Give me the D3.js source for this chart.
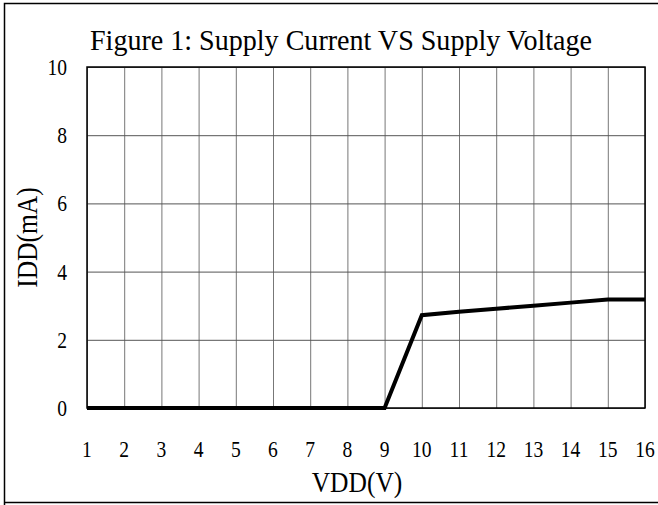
<!DOCTYPE html>
<html>
<head>
<meta charset="utf-8">
<script src="https://cdn.jsdelivr.net/npm/d3@7"></script>
<style>
  body { margin: 0; background: #fff; }
  text { font-family: "Liberation Serif", "DejaVu Serif", serif; fill: #000; }
</style>
</head>
<body>
<svg id="chart"></svg>
<script>
// supply voltage (V) and supply current (mA)
var vdd = [1, 2, 3, 4, 5, 6, 7, 8, 9, 10, 11, 12, 13, 14, 15, 16];
var idd = [0, 0, 0, 0, 0, 0, 0, 0, 0, 2.72, 2.82, 2.91, 3.0, 3.09, 3.18, 3.18];
var xTicks = [1, 2, 3, 4, 5, 6, 7, 8, 9, 10, 11, 12, 13, 14, 15, 16];
var yTicks = [0, 2, 4, 6, 8, 10];

var width = 658, height = 505;
var margin = {top: 67, right: 13, bottom: 97, left: 87};

var svg = d3.select('#chart')
  .attr('width', width)
  .attr('height', height)

// outer frame (right side runs off the picture)
svg.append('path')
  .attr('d', 'M4.5,' + height + 'V3.5H' + (width + 2) + 'M4.5,502.5H' + (width + 2))
  .attr('fill', 'none')
  .attr('stroke', '#000')
  .attr('stroke-width', 1.5)

var x = d3.scaleLinear()
  .domain([1, 16])
  .range([margin.left, width - margin.right])

var y = d3.scaleLinear()
  .domain([0, 10])
  .range([height - margin.bottom, margin.top])

// grid
svg.append('g')
  .attr('transform', 'translate(0,' + y(0) + ')')
  .call(d3.axisBottom(x).tickValues(xTicks).tickSize(-(y(0) - y(10))).tickFormat(''))
  .call(g => g.select('.domain').remove())
  .call(g => g.selectAll('line').attr('stroke', '#777').attr('stroke-width', 1))

svg.append('g')
  .attr('transform', 'translate(' + x(1) + ',0)')
  .call(d3.axisLeft(y).tickValues(yTicks).tickSize(-(x(16) - x(1))).tickFormat(''))
  .call(g => g.select('.domain').remove())
  .call(g => g.selectAll('line').attr('stroke', '#555').attr('stroke-width', 1))

// plot border
svg.append('rect')
  .attr('x', x(1))
  .attr('y', y(10))
  .attr('width', x(16) - x(1))
  .attr('height', y(0) - y(10))
  .attr('fill', 'none')
  .attr('stroke', '#000')
  .attr('stroke-width', 1.5)

// tick labels (the original face is tall and narrow, so squeeze sideways)
svg.append('g')
  .selectAll('text')
  .data(xTicks)
  .enter().append('text')
    .attr('transform', d => 'translate(' + x(d) + ',457) scale(0.85,1)')
    .attr('text-anchor', 'middle')
    .attr('font-size', 23)
    .text(d => d)

svg.append('g')
  .selectAll('text')
  .data(yTicks)
  .enter().append('text')
    .attr('transform', d => 'translate(67,' + (y(d) + 8) + ') scale(0.85,1)')
    .attr('text-anchor', 'end')
    .attr('font-size', 23)
    .text(d => d)

// data line
var line = d3.line()
  .x((d, i) => x(vdd[i]))
  .y(d => y(d))

svg.append('path')
  .datum(idd)
  .attr('d', line)
  .attr('fill', 'none')
  .attr('stroke', '#000')
  .attr('stroke-width', 4)
  .attr('stroke-linejoin', 'miter')

// titles
svg.append('text')
  .attr('x', 341)
  .attr('y', 50)
  .attr('text-anchor', 'middle')
  .attr('font-size', 30)
  .attr('textLength', 502)
  .attr('lengthAdjust', 'spacingAndGlyphs')
  .text('Figure 1: Supply Current VS Supply Voltage')

svg.append('text')
  .attr('transform', 'translate(357,492) scale(0.88,1)')
  .attr('text-anchor', 'middle')
  .attr('font-size', 29)
  .text('VDD(V)')

svg.append('text')
  .attr('transform', 'translate(37,' + ((y(0) + y(10)) / 2) + ') rotate(-90) scale(0.88,1)')
  .attr('text-anchor', 'middle')
  .attr('font-size', 29)
  .text('IDD(mA)')
</script>
</body>
</html>
